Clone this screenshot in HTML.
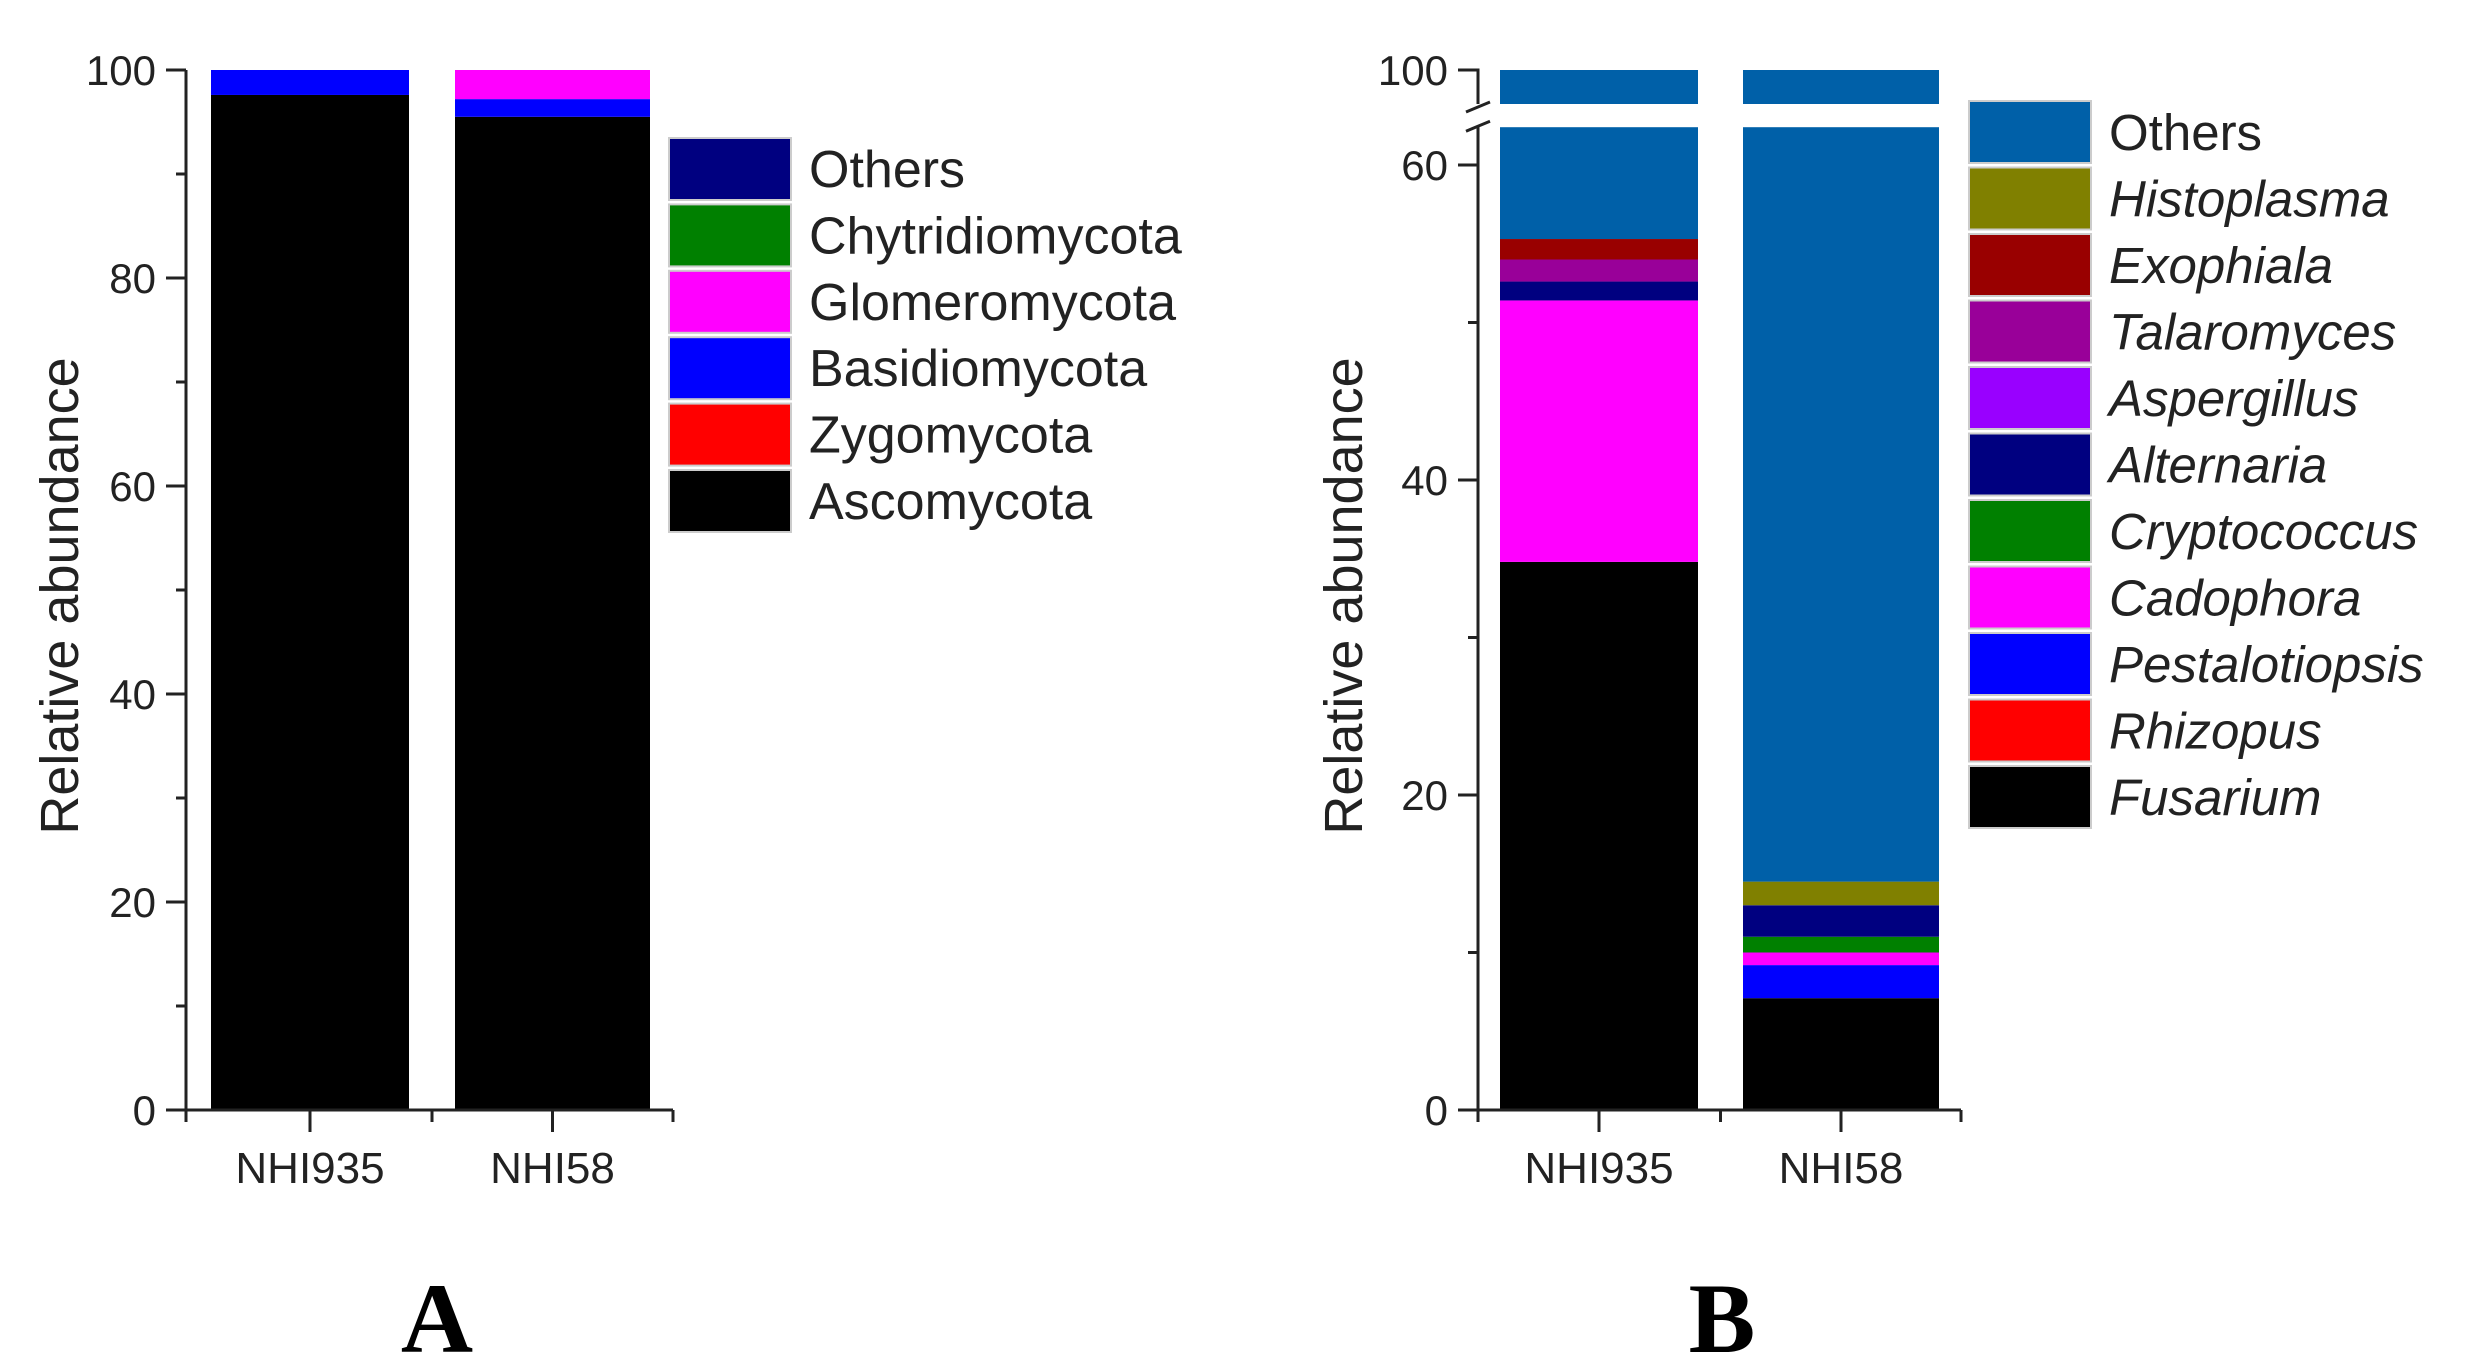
<!DOCTYPE html>
<html><head><meta charset="utf-8"><style>
html,body{margin:0;padding:0;background:#fff}
svg{display:block;font-family:"Liberation Sans",Arial,sans-serif}
</style></head><body>
<svg id="fig" width="2485" height="1369" viewBox="0 0 2485 1369" xmlns="http://www.w3.org/2000/svg"></svg>
<script>
// Panel A data
const catsA = ["NHI935","NHI58"];
const phylaA = ["Ascomycota","Zygomycota","Basidiomycota","Glomeromycota","Chytridiomycota","Others"];
const colorsA = ["#000000","#ff0000","#0000ff","#ff00ff","#008000","#000080"];
const valsA_NHI935 = [97.6,0,2.4,0,0,0];
const valsA_NHI58 = [95.5,0,1.7,2.8,0,0];
const ticksA = [0,20,40,60,80,100];
// Panel B data
const catsB = ["NHI935","NHI58"];
const generaB = ["Fusarium","Rhizopus","Pestalotiopsis","Cadophora","Cryptococcus","Alternaria","Aspergillus","Talaromyces","Exophiala","Histoplasma","Others"];
const colorsB = ["#000000","#ff0000","#0000ff","#ff00ff","#008000","#000080","#9900ff","#990099","#990000","#808000","#0060a8"];
const valsB_NHI935 = [34.8,0,0,16.6,0,1.2,0,1.4,1.3,0,44.7];
const valsB_NHI58 = [7.1,0,2.1,0.8,1.0,2.0,0,0,0,1.5,85.5];
const ticksB = [0,20,40,60,100];

const NS="http://www.w3.org/2000/svg";
const svg=document.getElementById('fig');
function mk(tag,attrs,parent){const e=document.createElementNS(NS,tag);for(const k in attrs)e.setAttribute(k,attrs[k]);(parent||svg).appendChild(e);return e;}

// ---------- Panel A ----------
const gA=mk('g',{});


const A={x0:186,xEnd:673,y0:1110,y100:70};
const yA=v=>A.y0-(v/100)*(A.y0-A.y100);
const barA=[[211,409],[455,650]];
[valsA_NHI935,valsA_NHI58].forEach((vals,ci)=>{
  let acc=0;
  vals.forEach((v,si)=>{
    if(v<=0){return;}
    const r=mk('rect',{x:barA[ci][0],y:yA(acc+v),width:barA[ci][1]-barA[ci][0],height:yA(acc)-yA(acc+v),fill:colorsA[si]},gA);
    
    
    acc+=v;
  });
});
const axA=mk('path',{d:`M${A.x0} ${A.y100} V${A.y0} M${A.x0-14} ${A.y0} H${A.xEnd}`,stroke:'#222',"stroke-width":3,fill:'none'},gA);


for(let v=0;v<=100;v+=10){
  const y=yA(v), major=v%20===0;
  mk('line',{x1:A.x0-(major?20:10),x2:A.x0,y1:y,y2:y,stroke:'#222',"stroke-width":3},gA);
}
ticksA.forEach(v=>{
  const t=mk('text',{x:A.x0-30,y:yA(v)+15,"text-anchor":'end',"font-size":42,fill:'#222'},gA);
  t.textContent=v;
  
  
});
[A.x0,(barA[0][0]+barA[0][1])/2,(barA[0][1]+barA[1][0])/2,(barA[1][0]+barA[1][1])/2,A.xEnd].forEach((x,i)=>{
  mk('line',{x1:x,x2:x,y1:A.y0,y2:A.y0+(i%2?22:12),stroke:'#222',"stroke-width":3},gA);
});
catsA.forEach((c,i)=>{
  const t=mk('text',{x:(barA[i][0]+barA[i][1])/2,y:1183,"text-anchor":'middle',"font-size":44,fill:'#222'},gA);
  t.textContent=c;
  
  
});
const ylA=mk('text',{x:0,y:0,transform:'translate(78,596) rotate(-90)',"text-anchor":'middle',"font-size":54,fill:'#222'},gA);
ylA.textContent='Relative abundance';


for(let i=0;i<phylaA.length;i++){
  const si=phylaA.length-1-i, y=137+i*66.4;
  const r=mk('rect',{x:669,y:y+1,width:122,height:62,fill:colorsA[si],stroke:'#ccc',"stroke-width":2},gA);
  
  
  const t=mk('text',{x:809,y:y+50,"font-size":52,fill:'#222'},gA);
  t.textContent=phylaA[si];
  
  
}
const lA=mk('text',{x:437,y:1352,"text-anchor":'middle',"font-size":100,"font-weight":'bold',"font-family":'"Liberation Serif",serif',fill:'#000'},gA);
lA.textContent='A';



// ---------- Panel B ----------
const gB=mk('g',{});


const B={x0:1478,xEnd:1961,y0:1110,y60:165,lowTop:62.4,upTopY:70,upBotY:104,upMin:97.5};
const yBlow=v=>B.y0-(v/60)*(B.y0-B.y60);
const yBup=v=>B.upBotY-(v-B.upMin)/(100-B.upMin)*(B.upBotY-B.upTopY);
const barB=[[1500,1698],[1743,1939]];
[valsB_NHI935,valsB_NHI58].forEach((vals,ci)=>{
  let acc=0;
  vals.forEach((v,si)=>{
    if(v<=0){return;}
    const lo=acc, hi=acc+v;
    const w=barB[ci][1]-barB[ci][0];
    if(lo<B.lowTop){
      const top=Math.min(hi,B.lowTop);
      const r=mk('rect',{x:barB[ci][0],y:yBlow(top),width:w,height:yBlow(lo)-yBlow(top),fill:colorsB[si]},gB);
      
      
    }
    if(hi>B.upMin){
      const b=Math.max(lo,B.upMin);
      const r=mk('rect',{x:barB[ci][0],y:yBup(hi),width:w,height:yBup(b)-yBup(hi),fill:colorsB[si]},gB);
      
      
    }
    acc+=v;
  });
});
const axB=mk('path',{d:`M${B.x0} ${B.y0} V${yBlow(B.lowTop)} M${B.x0} ${B.upBotY} V${B.upTopY} H${B.x0-20} M${B.x0-14} ${B.y0} H${B.xEnd}
 M${B.x0-12} ${B.upBotY+8} L${B.x0+12} ${B.upBotY-2} M${B.x0-12} ${yBlow(B.lowTop)+4} L${B.x0+12} ${yBlow(B.lowTop)-6}`,stroke:'#222',"stroke-width":3,fill:'none'},gB);


for(let v=0;v<=60;v+=10){
  const y=yBlow(v), major=v%20===0;
  mk('line',{x1:B.x0-(major?20:10),x2:B.x0,y1:y,y2:y,stroke:'#222',"stroke-width":3},gB);
}
ticksB.forEach(v=>{
  const y=v>60?yBup(100):yBlow(v);
  const t=mk('text',{x:B.x0-30,y:y+15,"text-anchor":'end',"font-size":42,fill:'#222'},gB);
  t.textContent=v;
  
  
});
[B.x0,(barB[0][0]+barB[0][1])/2,(barB[0][1]+barB[1][0])/2,(barB[1][0]+barB[1][1])/2,B.xEnd].forEach((x,i)=>{
  mk('line',{x1:x,x2:x,y1:B.y0,y2:B.y0+(i%2?22:12),stroke:'#222',"stroke-width":3},gB);
});
catsB.forEach((c,i)=>{
  const t=mk('text',{x:(barB[i][0]+barB[i][1])/2,y:1183,"text-anchor":'middle',"font-size":44,fill:'#222'},gB);
  t.textContent=c;
  
  
});
const ylB=mk('text',{x:0,y:0,transform:'translate(1362,596) rotate(-90)',"text-anchor":'middle',"font-size":54,fill:'#222'},gB);
ylB.textContent='Relative abundance';


for(let i=0;i<generaB.length;i++){
  const si=generaB.length-1-i, y=100+i*66.5;
  const r=mk('rect',{x:1969,y:y+1,width:122,height:62,fill:colorsB[si],stroke:'#ccc',"stroke-width":2},gB);
  
  
  const t=mk('text',{x:2109,y:y+50,"font-size":51,"font-style":si===generaB.length-1?'normal':'italic',fill:'#222'},gB);
  t.textContent=generaB[si];
  
  
}
const lB=mk('text',{x:1722,y:1352,"text-anchor":'middle',"font-size":100,"font-weight":'bold',"font-family":'"Liberation Serif",serif',fill:'#000'},gB);
lB.textContent='B';


</script>
</body></html>
